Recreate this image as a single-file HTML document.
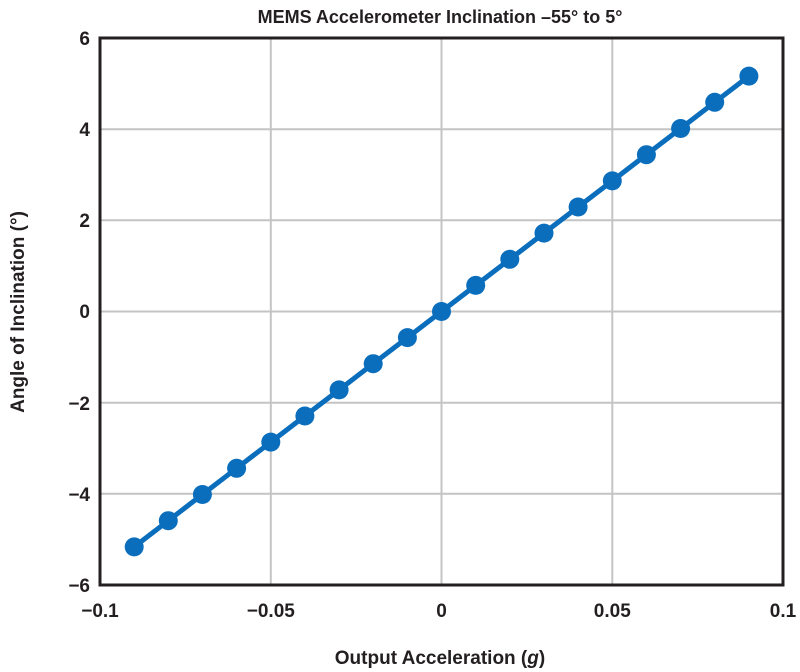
<!DOCTYPE html>
<html><head><meta charset="utf-8"><style>body{margin:0;background:#fff}svg{display:block}text{font-family:"Liberation Sans",sans-serif;font-weight:bold;fill:#231f20}</style></head>
<body>
<svg width="800" height="672" viewBox="0 0 800 672">
<g stroke="#c4c4c4" stroke-width="2">
<line x1="270.8" y1="38" x2="270.8" y2="585"/><line x1="441.5" y1="38" x2="441.5" y2="585"/><line x1="612.3" y1="38" x2="612.3" y2="585"/>
<line x1="100" y1="129.2" x2="783" y2="129.2"/><line x1="100" y1="220.3" x2="783" y2="220.3"/><line x1="100" y1="311.5" x2="783" y2="311.5"/><line x1="100" y1="402.7" x2="783" y2="402.7"/><line x1="100" y1="493.8" x2="783" y2="493.8"/>
</g>
<rect x="100" y="38" width="683" height="547" fill="none" stroke="#231f20" stroke-width="3"/>
<g font-size="19" text-anchor="end">
<text x="90" y="45">6</text><text x="90" y="136">4</text><text x="90" y="227">2</text><text x="90" y="318">0</text><text x="90" y="410">−2</text><text x="90" y="501">−4</text><text x="90" y="592">−6</text>
</g>
<g font-size="19" text-anchor="middle">
<text x="100" y="617">−0.1</text><text x="270.8" y="617">−0.05</text><text x="441.5" y="617">0</text><text x="612.3" y="617">0.05</text><text x="783" y="617">0.1</text>
</g>
<text x="440" y="23" font-size="18" text-anchor="middle">MEMS Accelerometer Inclination –55° to 5°</text>
<text x="440" y="664" font-size="19" text-anchor="middle">Output Acceleration (<tspan font-style="italic">g</tspan>)</text>
<text transform="translate(24,312) rotate(-90)" font-size="19" text-anchor="middle">Angle of Inclination (°)</text>
<polyline points="134.2,546.9 168.3,520.7 202.4,494.5 236.6,468.3 270.8,442.1 304.9,416 339.1,389.9 373.2,363.7 407.4,337.6 441.5,311.5 475.7,285.4 509.8,259.3 544,233.1 578.1,207 612.3,180.9 646.4,154.7 680.6,128.5 714.7,102.3 748.9,76.1" fill="none" stroke="#0a6ebd" stroke-width="5"/>
<g fill="#0a6ebd">
<circle cx="134.2" cy="546.9" r="9.5"/><circle cx="168.3" cy="520.7" r="9.5"/><circle cx="202.4" cy="494.5" r="9.5"/><circle cx="236.6" cy="468.3" r="9.5"/><circle cx="270.8" cy="442.1" r="9.5"/><circle cx="304.9" cy="416" r="9.5"/><circle cx="339.1" cy="389.9" r="9.5"/><circle cx="373.2" cy="363.7" r="9.5"/><circle cx="407.4" cy="337.6" r="9.5"/><circle cx="441.5" cy="311.5" r="9.5"/><circle cx="475.7" cy="285.4" r="9.5"/><circle cx="509.8" cy="259.3" r="9.5"/><circle cx="544" cy="233.1" r="9.5"/><circle cx="578.1" cy="207" r="9.5"/><circle cx="612.3" cy="180.9" r="9.5"/><circle cx="646.4" cy="154.7" r="9.5"/><circle cx="680.6" cy="128.5" r="9.5"/><circle cx="714.7" cy="102.3" r="9.5"/><circle cx="748.9" cy="76.1" r="9.5"/>
</g>
</svg>
</body></html>
